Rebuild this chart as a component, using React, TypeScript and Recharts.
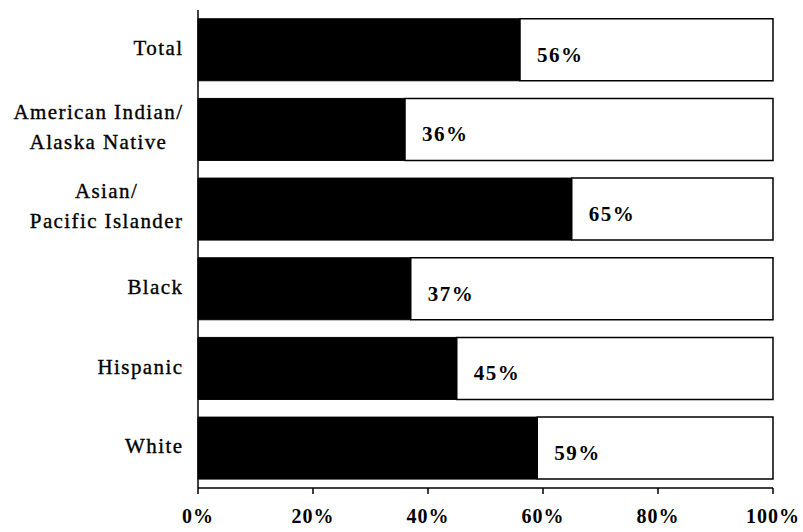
import { BarChart, Bar, XAxis, YAxis, LabelList } from 'recharts';

const groups = [
  'Total',
  'American Indian/\nAlaska Native',
  'Asian/\nPacific Islander',
  'Black',
  'Hispanic',
  'White',
];
const shares = [56, 36, 65, 37, 45, 59];
const xTicks = [0, 20, 40, 60, 80, 100];

const data = groups.map((g, i) => ({
  name: g,
  value: shares[i],
  rest: 100 - shares[i],
}));

const FONT = "'Liberation Serif', 'Times New Roman', serif";
const LABEL_SIZE = 21;
const SPACING = 1.4;

let ctx: CanvasRenderingContext2D | null = null;
const measure = (s: string) => {
  if (!ctx) ctx = document.createElement('canvas').getContext('2d');
  if (!ctx) return s.length * 9;
  ctx.font = `${LABEL_SIZE}px ${FONT}`;
  return ctx.measureText(s).width + s.length * SPACING;
};

// category labels, multi-line ones centred as a block against the axis
const GroupTick = ({ x = 0, y = 0, payload }: any) => {
  const lines = String(payload.value).split('\n');
  const right = x - 8;
  const common = {
    dominantBaseline: 'central' as const,
    fontFamily: FONT,
    fontSize: LABEL_SIZE,
    letterSpacing: SPACING,
    fill: '#000',
    stroke: '#000',
    strokeWidth: 0.35,
  };
  if (lines.length === 1) {
    return (
      <text x={right + SPACING} y={y - 2} textAnchor="end" {...common}>
        {lines[0]}
      </text>
    );
  }
  const w = Math.max(...lines.map(measure));
  const cx = right - w / 2 + SPACING;
  return (
    <text x={cx} y={y} textAnchor="middle" {...common}>
      {lines.map((l, i) => (
        <tspan key={i} x={cx} y={y - 3 + (i - (lines.length - 1) / 2) * 30}>{l}</tspan>
      ))}
    </text>
  );
};

const renderValue = ({ x = 0, y = 0, width = 0, height = 0, value }: any) => (
  <text x={x + width + 17} y={y + height / 2 + 5} dominantBaseline="central"
    fontFamily={FONT} fontSize={21} fontWeight="bold" letterSpacing={1.5} fill="#000">
    {`${value}%`}
  </text>
);

export default function App() {
  return (
    <div style={{ position: 'absolute', left: 0, top: 0, background: '#fff' }}>
      <BarChart
        width={803}
        height={532}
        data={data}
        layout="vertical"
        margin={{ top: 10, right: 30, left: 0, bottom: 14 }}
        barCategoryGap="11%"
      >
        <XAxis
          type="number"
          domain={[0, 100]}
          ticks={xTicks}
          tickFormatter={(v) => `${v}%`}
          height={30}
          axisLine={{ stroke: '#000', strokeWidth: 1.5 }}
          tickLine={{ stroke: '#000', strokeWidth: 1.5 }}
          tickSize={6}
          tickMargin={15}
          tick={{ fill: '#000', fontFamily: FONT, fontSize: 20, fontWeight: 'bold', letterSpacing: 1 }}
          interval={0}
        />
        <YAxis
          type="category"
          dataKey="name"
          width={198}
          axisLine={{ stroke: '#000', strokeWidth: 1.5 }}
          tickLine={false}
          tick={<GroupTick />}
          interval={0}
        />
        <Bar dataKey="value" stackId="a" fill="#000" stroke="#000" isAnimationActive={false}>
          <LabelList dataKey="value" content={renderValue} />
        </Bar>
        <Bar dataKey="rest" stackId="a" fill="#fff" stroke="#000" strokeWidth={1.5} isAnimationActive={false} />
      </BarChart>
    </div>
  );
}
